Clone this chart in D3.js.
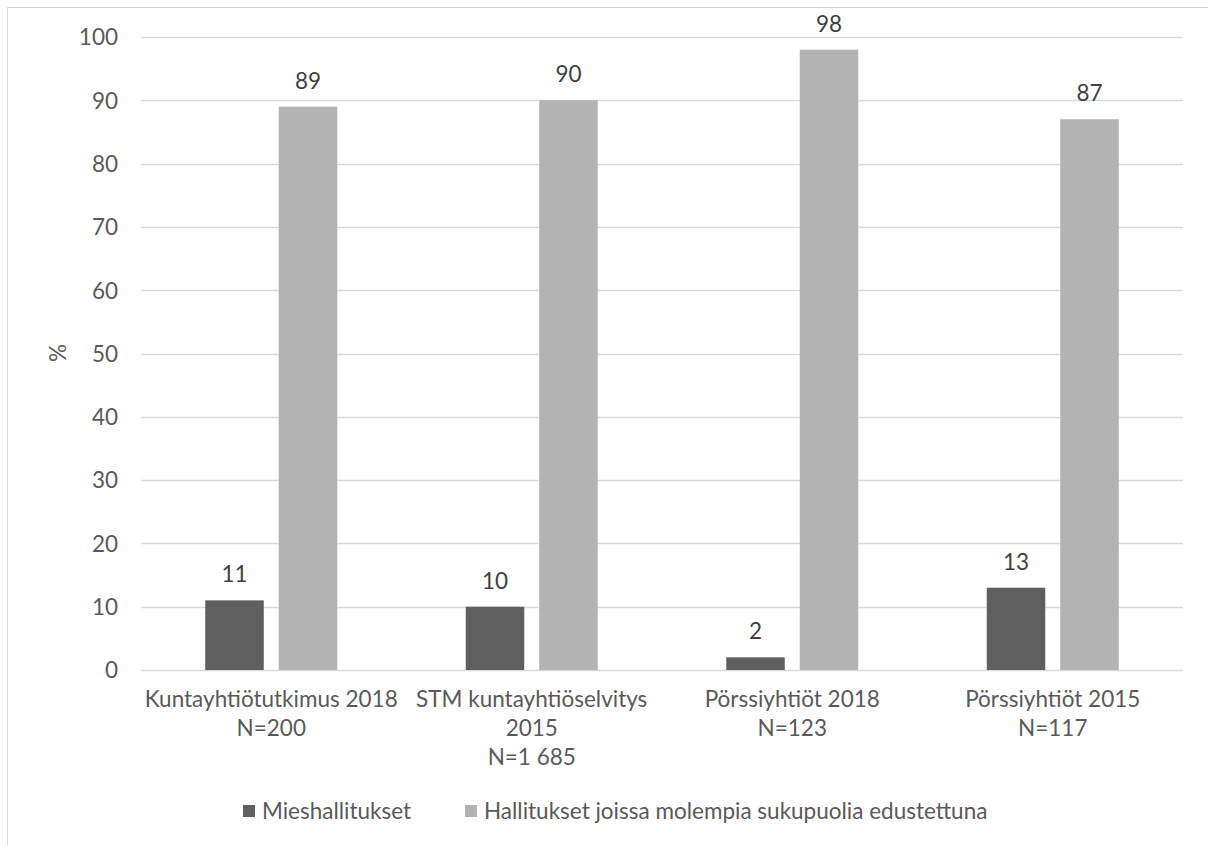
<!DOCTYPE html>
<html>
<head>
<meta charset="utf-8">
<script src="https://cdn.jsdelivr.net/npm/d3@7"></script>
<style>
  html, body { margin: 0; padding: 0; background: #fff; }
  svg { display: block; }
  text { font-family: Lato, "Open Sans", sans-serif; }
</style>
</head>
<body>
<svg id="chart" width="1208" height="845"></svg>
<script>
const categories = [
  ["Kuntayhtiötutkimus 2018", "N=200"],
  ["STM kuntayhtiöselvitys", "2015", "N=1 685"],
  ["Pörssiyhtiöt 2018", "N=123"],
  ["Pörssiyhtiöt 2015", "N=117"]
];
const seriesNames = ["Mieshallitukset", "Hallitukset joissa molempia sukupuolia edustettuna"];
const mieshallitukset = [11, 10, 2, 13];
const molemmat = [89, 90, 98, 87];
const yTicks = [0, 10, 20, 30, 40, 50, 60, 70, 80, 90, 100];
const colors = ["#5f5f5f", "#b3b3b3"];

const svg = d3.select("#chart");
const W = 1208, H = 845;
const plot = { left: 141, right: 1183, top: 37, bottom: 670 };

// chart border (only left/top visible)
svg.append("rect")
  .attr("x", 7.5).attr("y", 7.5)
  .attr("width", 1400).attr("height", 1000)
  .attr("fill", "none").attr("stroke", "#d9d9d9").attr("stroke-width", 1);

const y = d3.scaleLinear().domain([0, 100]).range([plot.bottom, plot.top]);
const x0 = d3.scaleBand().domain(d3.range(categories.length))
  .range([plot.left, plot.right]).padding(0);

// gridlines
svg.append("g").selectAll("line").data(yTicks).join("line")
  .attr("x1", plot.left).attr("x2", plot.right)
  .attr("y1", d => Math.round(y(d)) + 0.5).attr("y2", d => Math.round(y(d)) + 0.5)
  .attr("stroke", "#d9d9d9").attr("stroke-width", 1.3);

// y axis labels
const yAxis = d3.axisLeft(y).tickValues(yTicks).tickSize(0).tickPadding(0);
const gy = svg.append("g").attr("transform", `translate(118,0)`).call(yAxis);
gy.select(".domain").remove();
gy.selectAll("text").attr("font-size", 22.5).attr("fill", "#595959")
  .attr("font-family", "Lato, 'Open Sans', sans-serif").attr("dy", "0.35em");

// y title
svg.append("text")
  .attr("transform", "translate(66,353) rotate(-90)")
  .attr("text-anchor", "middle")
  .attr("font-size", 22.5).attr("fill", "#595959")
  .text("%");

const data = categories.map((c, i) => [mieshallitukset[i], molemmat[i]]);
const innerW = 132 / 260.5 * x0.bandwidth();
const x1 = d3.scaleBand().domain([0, 1]).range([0, innerW]).paddingInner(0.204).paddingOuter(0);

const groups = svg.append("g").selectAll("g").data(data).join("g")
  .attr("transform", (d, i) => `translate(${x0(i) + (x0.bandwidth() - innerW) / 2},0)`);

groups.selectAll("rect").data(d => d).join("rect")
  .attr("x", (d, j) => x1(j))
  .attr("y", d => y(d))
  .attr("width", x1.bandwidth())
  .attr("height", d => y(0) - y(d))
  .attr("fill", (d, j) => colors[j]);

groups.selectAll("text.lbl").data(d => d).join("text")
  .attr("class", "lbl")
  .attr("x", (d, j) => x1(j) + x1.bandwidth() / 2)
  .attr("y", d => y(d) - 18)
  .attr("text-anchor", "middle")
  .attr("font-size", 22.5).attr("fill", "#404040")
  .text(d => d);

// x axis category labels
const xl = svg.append("g").selectAll("text").data(categories).join("text")
  .attr("text-anchor", "middle")
  .attr("font-size", 22.5).attr("fill", "#595959")
  .attr("x", (d, i) => x0(i) + x0.bandwidth() / 2)
  .attr("y", 707);
xl.selectAll("tspan").data(d => d).join("tspan")
  .attr("x", function () { return d3.select(this.parentNode).attr("x"); })
  .attr("dy", (d, k) => k === 0 ? 0 : 29)
  .text(d => d);

// legend
const legendX = [243, 465];
const lg = svg.append("g").selectAll("g").data(seriesNames).join("g")
  .attr("transform", (d, i) => `translate(${legendX[i]},811)`);
lg.append("rect").attr("x", 0).attr("y", -6).attr("width", 12).attr("height", 12)
  .attr("fill", (d, i) => colors[i]);
lg.append("text").attr("x", 19).attr("y", 0).attr("dy", "0.35em")
  .attr("font-size", 22.5).attr("fill", "#595959")
  .text(d => d);
</script>
</body>
</html>
